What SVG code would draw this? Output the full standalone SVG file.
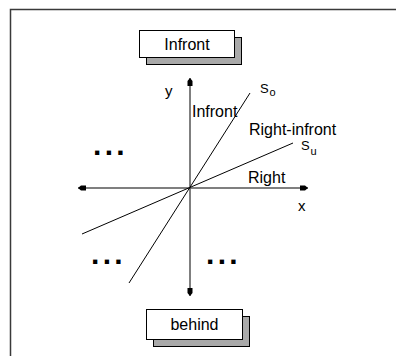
<svg xmlns="http://www.w3.org/2000/svg" width="396" height="356" viewBox="0 0 396 356">
  <style>
    .lbl { font-family: "Liberation Sans", Arial, sans-serif; font-size: 16px; fill: #000; }
    .sym { font-family: "Liberation Sans", Arial, sans-serif; font-size: 15px; fill: #000; }
    .s { font-family: "Liberation Sans", Arial, sans-serif; font-size: 13px; fill: #000; }
    .sub { font-family: "Liberation Sans", Arial, sans-serif; font-size: 11px; fill: #000; }
    .dots { font-family: "Liberation Sans", Arial, sans-serif; font-size: 30px; font-weight: bold; letter-spacing: 3.3px; fill: #000; }
    .box { fill: #fff; stroke: #000; stroke-width: 1; }
    .shadow { fill: #a9a9a9; stroke: #000; stroke-width: 1; }
    .axis { stroke: #555; stroke-width: 1.5; fill: none; }
    .ray { stroke: #000; stroke-width: 1; fill: none; }
  </style>
  <defs>
    <marker id="tip" viewBox="0 0 8 6" refX="8" refY="3" markerWidth="8" markerHeight="6" markerUnits="userSpaceOnUse" orient="auto">
      <path d="M0,0.5 L5,0.5 L8,3 L5,5.5 L0,5.5 Z" fill="#000"/>
    </marker>
  </defs>

  <rect width="396" height="356" fill="#fff"/>
  <!-- page frame -->
  <path d="M10.5,356 V9.5 H396" fill="none" stroke="#3a3a3a" stroke-width="1.5"/>

  <g id="connectors">
    <line class="axis" x1="190" y1="188" x2="190" y2="78" marker-end="url(#tip)"/>
    <line class="axis" x1="190" y1="188" x2="190" y2="296" marker-end="url(#tip)"/>
    <line class="axis" x1="190" y1="188" x2="308" y2="188" marker-end="url(#tip)"/>
    <line class="axis" x1="190" y1="188" x2="78" y2="188" marker-end="url(#tip)"/>
    <line class="ray" x1="250" y1="93" x2="129" y2="283"/>
    <line class="ray" x1="293" y1="143" x2="82" y2="234"/>
  </g>

  <g id="node-infront">
    <rect class="shadow" x="146.5" y="37.5" width="95" height="27"/>
    <rect class="box" x="139.5" y="30.5" width="95" height="27"/>
    <text class="lbl" x="187" y="49.5" text-anchor="middle">Infront</text>
  </g>

  <g id="node-behind">
    <rect class="shadow" x="153.5" y="316.5" width="96" height="30"/>
    <rect class="box" x="146.5" y="309.5" width="96" height="30"/>
    <text class="lbl" x="194.5" y="330" text-anchor="middle">behind</text>
  </g>

  <g id="labels">
    <text class="sym" x="165" y="96">y</text>
    <text class="sym" x="298" y="211">x</text>
    <text class="s" x="260" y="93">S</text>
    <text class="sub" x="269.5" y="96">o</text>
    <text class="s" x="301" y="150">S</text>
    <text class="sub" x="310.5" y="155">u</text>
    <text class="lbl" x="192" y="116.5">Infront</text>
    <text class="lbl" x="249" y="135">Right-infront</text>
    <text class="lbl" x="248" y="183">Right</text>
    <text class="dots" x="93" y="155">...</text>
    <text class="dots" x="91" y="264">...</text>
    <text class="dots" x="206" y="264">...</text>
  </g>
</svg>
